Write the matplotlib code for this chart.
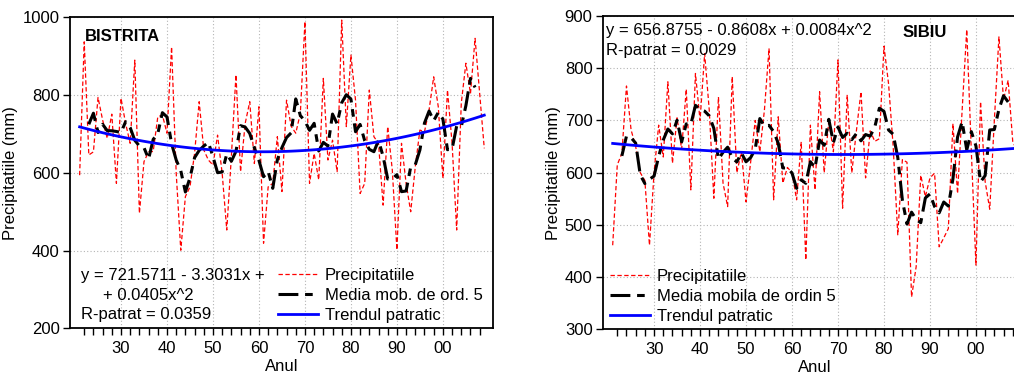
import numpy as np
import pandas as pd
import matplotlib
matplotlib.use("Agg")
import matplotlib.pyplot as plt
from matplotlib.ticker import FixedLocator, FuncFormatter

plt.rcParams["font.family"] = ["Liberation Sans", "DejaVu Sans"]

years = list(range(1921, 2010))

# annual precipitation (mm)
bistrita = [594, 937, 646, 654, 794, 736, 689, 751, 573, 792,
            727, 676, 890, 496, 629, 654, 655, 744, 749, 702,
            924, 600, 401, 539, 564, 650, 783, 659, 633, 620,
            697, 599, 453, 642, 852, 603, 727, 783, 624, 770,
            419, 564, 573, 693, 552, 787, 720, 702, 753, 989,
            573, 650, 582, 843, 633, 684, 603, 993, 719, 903,
            787, 547, 573, 813, 693, 676, 517, 719, 607, 402,
            676, 573, 500, 616, 710, 706, 762, 847, 770, 586,
            813, 676, 453, 779, 882, 804, 946, 804, 663]

sibiu = [461, 615, 637, 766, 682, 650, 600, 585, 461, 600,
         691, 630, 774, 618, 705, 645, 760, 567, 790, 700,
         828, 720, 551, 745, 580, 535, 784, 600, 640, 544,
         620, 700, 640, 720, 838, 548, 707, 580, 610, 600,
         548, 659, 433, 691, 567, 755, 600, 700, 640, 816,
         532, 749, 600, 680, 755, 590, 680, 660, 665, 842,
         770, 650, 481, 625, 620, 362, 420, 595, 554, 590,
         599, 458, 475, 493, 694, 560, 720, 874, 640, 423,
         736, 583, 530, 700, 860, 740, 777, 660, 640]

# quadratic trend coefficients printed on the chart (x = 1, 2, ...)
bistrita_coef = [721.5711, -3.3031, 0.0405]
sibiu_coef = [656.8755, -0.8608, 0.0084]

df = pd.DataFrame({"an": years, "bistrita": bistrita, "sibiu": sibiu})
df["t"] = np.arange(1, len(df) + 1)
for st, coef in [("bistrita", bistrita_coef), ("sibiu", sibiu_coef)]:
    df[st + "_mm5"] = df[st].rolling(5, center=True).mean()
    df[st + "_trend"] = np.polynomial.polynomial.polyval(df["t"], coef)

FS = 12

fig = plt.figure(figsize=(10.14, 3.77), dpi=100)
ax1 = fig.add_axes([0.069, 0.129, 0.4172, 0.825])
ax2 = fig.add_axes([0.5947, 0.1265, 0.4172, 0.831])


def draw(ax, st, ylim, yticks, mm_label):
    ax.plot(df["an"], df[st], color="#ff0000", lw=0.9, ls=(0, (3.5, 2)),
            label="Precipitatiile", zorder=3)
    ax.plot(df["an"], df[st + "_mm5"], color="black", lw=2.2,
            ls=(0, (6.5, 2.2, 2.5, 2.2)), label=mm_label, zorder=4)
    ax.plot(df["an"], df[st + "_trend"], color="#0000ff", lw=2.0,
            label="Trendul patratic", zorder=5)
    ax.set_xlim(1918.9, 2010.9)
    ax.set_ylim(*ylim)
    ax.set_yticks(yticks)
    ax.xaxis.set_major_locator(FixedLocator(range(1930, 2001, 10)))
    ax.xaxis.set_minor_locator(FixedLocator(range(1922, 2009, 2)))
    ax.xaxis.set_major_formatter(FuncFormatter(lambda v, p: "%02d" % (int(v) % 100)))
    ax.grid(True, which="major", color="#b4b4b4", lw=0.8, ls=(0, (1, 2)))
    ax.tick_params(which="both", direction="out", length=5, width=1,
                   labelsize=FS, colors="black", pad=2.5)
    ax.tick_params(axis="x", pad=4)
    for s in ax.spines.values():
        s.set_linewidth(1.3)
    ax.set_xlabel("Anul", fontsize=FS, labelpad=2)
    ax.set_ylabel("Precipitatiile (mm)", fontsize=FS, labelpad=3)


draw(ax1, "bistrita", (200, 1000), range(200, 1001, 200), "Media mob. de ord. 5")
draw(ax2, "sibiu", (300, 900), range(300, 901, 100), "Media mobila de ordin 5")

ax1.text(0.035, 0.94, "BISTRITA", transform=ax1.transAxes, fontsize=FS,
         fontweight="bold", va="center")
ax1.text(0.025, 0.171, "y = 721.5711 - 3.3031x +", transform=ax1.transAxes,
         fontsize=FS, va="center")
ax1.text(0.078, 0.105, "+ 0.0405x^2", transform=ax1.transAxes,
         fontsize=FS, va="center")
ax1.text(0.025, 0.043, "R-patrat = 0.0359", transform=ax1.transAxes,
         fontsize=FS, va="center")

ax2.text(0.709, 0.949, "SIBIU", transform=ax2.transAxes, fontsize=FS,
         fontweight="bold", va="center")
ax2.text(0.008, 0.955, "y = 656.8755 - 0.8608x + 0.0084x^2", transform=ax2.transAxes,
         fontsize=FS, va="center")
ax2.text(0.008, 0.891, "R-patrat = 0.0029", transform=ax2.transAxes,
         fontsize=FS, va="center")

leg_kw = dict(frameon=False, fontsize=FS, handlelength=2.4, handletextpad=0.42,
              labelspacing=0.3, borderpad=0, borderaxespad=0, loc="upper left")
ax1.legend(bbox_to_anchor=(0.492, 0.195), **leg_kw)
ax2.legend(bbox_to_anchor=(0.0165, 0.194), **leg_kw)

fig.savefig("out.png", dpi=100)
